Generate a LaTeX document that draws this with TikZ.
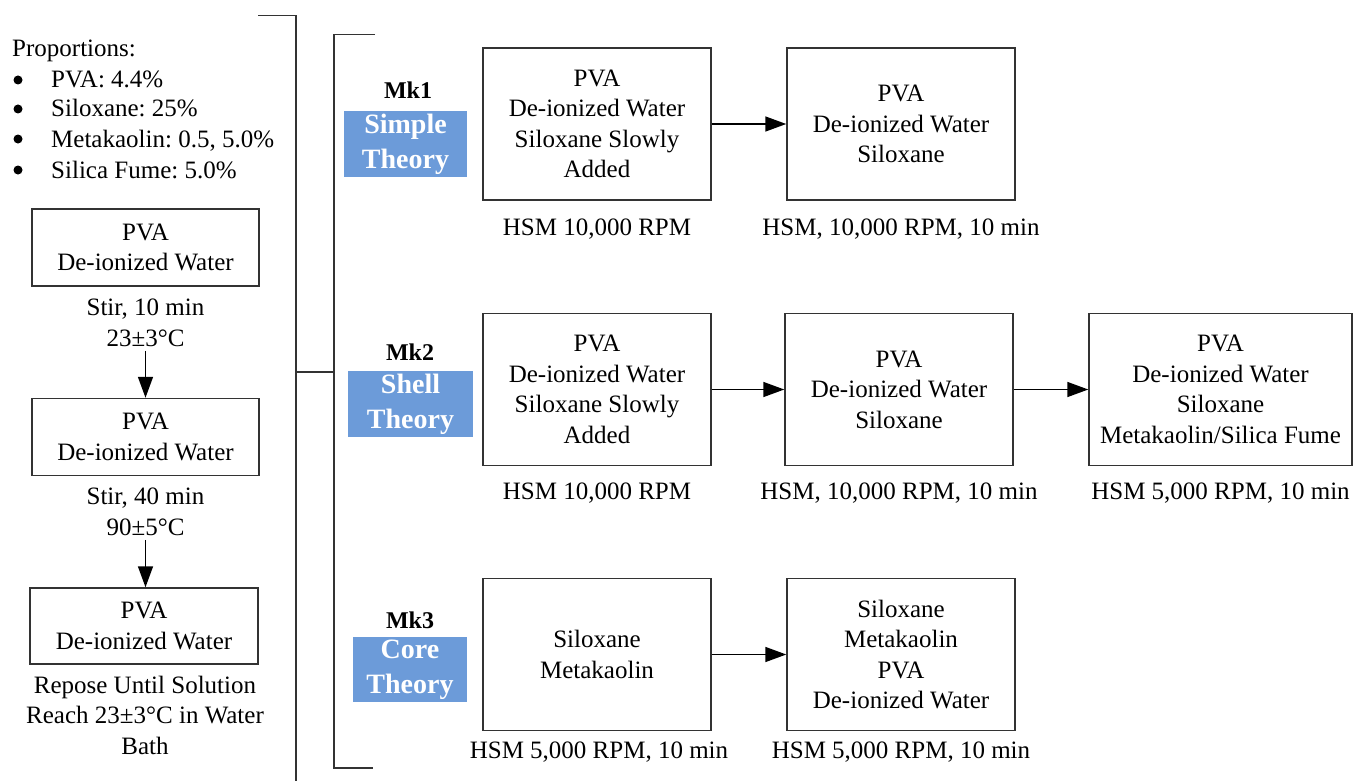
\documentclass[tikz,border=0pt]{standalone}
\usepackage{fontspec}
\setmainfont{Liberation Serif}
\usetikzlibrary{arrows.meta}
\frenchspacing
\definecolor{ln}{HTML}{333333}
\definecolor{bl}{HTML}{6C9BD9}
\begin{document}
\begin{tikzpicture}[x=1pt,y=-1pt,
  box/.style={draw=ln, line width=1.5pt, minimum width=228pt, minimum height=152pt, inner sep=0pt, align=center, font=\fontsize{25}{30.5}\selectfont},
  lbox/.style={box, minimum width=227pt, minimum height=77pt},
  txt/.style={inner sep=0pt, align=center, font=\fontsize{25}{30.5}\selectfont},
  ltxt/.style={inner sep=0pt, font=\fontsize{25}{30.5}\selectfont},
  bul/.style={circle, fill=black, inner sep=0pt, minimum size=9pt},
  theory/.style={fill=bl, text=white, inner sep=0pt, align=center, font=\fontsize{28}{35}\selectfont\bfseries},
  mk/.style={inner sep=0pt, font=\fontsize{24}{28}\selectfont\bfseries},
  arr/.style={draw=black, line width=1.6pt, -{Triangle[length=21pt,width=15pt]}},
  brk/.style={draw=ln, line width=1.5pt},
]
\useasboundingbox (0,0) rectangle (1356,781);

% proportions list
\node[ltxt, anchor=base west] (p0) at (12,57) {Proportions:};
\node[bul] (b1) at (18,80) {};
\node[ltxt, anchor=base west] (p1) at (51,88) {PVA: 4.4\%};
\node[bul] (b2) at (18,109) {};
\node[ltxt, anchor=base west] (p2) at (51,117) {Siloxane: 25\%};
\node[bul] (b3) at (18,139) {};
\node[ltxt, anchor=base west] (p3) at (51,147) {Metakaolin: 0.5, 5.0\%};
\node[bul] (b4) at (18,170) {};
\node[ltxt, anchor=base west] (p4) at (51,178) {Silica Fume: 5.0\%};

% left process column
\node[lbox] (L1) at (145.5,247.5) {PVA\\De-ionized Water};
\node[txt] (L1t) at (145.5,323) {Stir, 10 min\\23±3°C};
\node[lbox] (L2) at (145.5,437) {PVA\\De-ionized Water};
\node[txt] (L2t) at (145.5,512) {Stir, 40 min\\90±5°C};
\node[lbox, minimum width=228pt, minimum height=76pt] (L3) at (144,626) {PVA\\De-ionized Water};
\node[txt] (L3t) at (145,715) {Repose Until Solution\\Reach 23±3°C in Water\\Bath};
\draw[arr, shorten <=4pt] (L1t.south) -- (L1t.south |- L2.north);
\draw[arr, shorten <=4pt] (L2t.south) -- (L2t.south |- L3.north);

% brackets
\coordinate (t1a) at (258,15.5);
\coordinate (t1b) at (296,15.5);
\coordinate (t1c) at (296,781);
\coordinate (j1) at (296,372);
\coordinate (j2) at (334,372);
\coordinate (t2a) at (375,34.5);
\coordinate (t2b) at (334,34.5);
\coordinate (t2c) at (334,768);
\coordinate (t2d) at (373,768);
\draw[brk] (t1a) -- (t1b) -- (t1c);
\draw[brk] (j1) -- (j2);
\draw[brk] (t2a) -- (t2b) -- (t2c) -- (t2d);

% theory labels
\node[mk] (mk1) at (408,90) {Mk1};
\node[theory, minimum width=123pt, minimum height=66pt] (th1) at (405.5,144) {Simple\\Theory};
\node[mk] (mk2) at (410,352) {Mk2};
\node[theory, minimum width=125pt, minimum height=66pt] (th2) at (410.5,404) {Shell\\Theory};
\node[mk] (mk3) at (410,620) {Mk3};
\node[theory, minimum width=114pt, minimum height=65pt] (th3) at (410,669.5) {Core\\Theory};

% row 1
\node[box] (A1) at (597,124) {PVA\\De-ionized Water\\Siloxane Slowly\\Added};
\node[box] (B1) at (901,124) {PVA\\De-ionized Water\\Siloxane};
\node[txt] (A1t) at (597,229) {HSM 10,000 RPM};
\node[txt] (B1t) at (901,229) {HSM, 10,000 RPM, 10 min};
\draw[arr] (A1) -- (B1);

% row 2
\node[box] (A2) at (597,389.5) {PVA\\De-ionized Water\\Siloxane Slowly\\Added};
\node[box] (B2) at (899,389.5) {PVA\\De-ionized Water\\Siloxane};
\node[box, minimum width=263pt] (C2) at (1220.5,389.5) {PVA\\De-ionized Water\\Siloxane\\Metakaolin/Silica Fume};
\node[txt] (A2t) at (597,493) {HSM 10,000 RPM};
\node[txt] (B2t) at (899,493) {HSM, 10,000 RPM, 10 min};
\node[txt] (C2t) at (1220.5,493) {HSM 5,000 RPM, 10 min};
\draw[arr] (A2) -- (B2);
\draw[arr] (B2) -- (C2);

% row 3
\node[box] (A3) at (597,654.5) {Siloxane\\Metakaolin};
\node[box] (B3) at (901,654.5) {Siloxane\\Metakaolin\\PVA\\De-ionized Water};
\node[txt] (A3t) at (599,752) {HSM 5,000 RPM, 10 min};
\node[txt] (B3t) at (901,752) {HSM 5,000 RPM, 10 min};
\draw[arr] (A3) -- (B3);
\end{tikzpicture}
\end{document}
